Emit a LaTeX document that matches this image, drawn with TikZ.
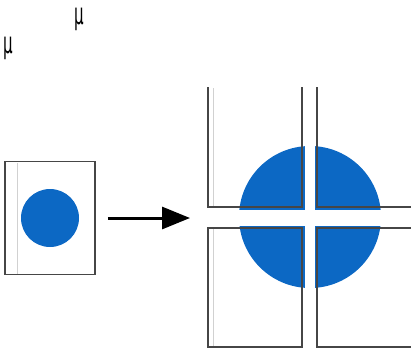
\documentclass[tikz,border=0pt]{standalone}
\usepackage{fontspec}
\newfontfamily\symfont{DejaVu Sans}
\usetikzlibrary{arrows.meta,positioning}
\definecolor{dotblue}{RGB}{12,104,196}
\definecolor{frame}{RGB}{70,70,70}

\begin{document}
\begin{tikzpicture}[
    x=1pt, y=-1pt, line width=1.4pt,
    panel/.style={draw=frame,line width=1.5pt},
    ghost/.style={draw=black!18,line width=0.8pt},
    smallbox/.style={draw=frame,line width=1.5pt,minimum width=90pt,minimum height=113pt,inner sep=0pt},
    dot/.style={circle,fill=dotblue,inner sep=0pt},
    gap/.style={fill=white,draw=none},
    sym/.style={font=\symfont\fontsize{30}{30}\selectfont,xscale=0.5,inner sep=0pt},
    arrow/.style={-{Triangle[length=28pt,width=22pt]},line width=3pt}
]
\path[use as bounding box] (0,0) rectangle (411,353);

\node[sym] (mua) at (79,19) {μ};
\node[sym] (mub) at (8,48) {μ};

% small input picture
\node[smallbox] (small) at (50,218) {};
\draw[ghost] (17,163) -- (17,274);
\node[dot,minimum size=58pt] (smalldot) at (50,218) {};

% enlarged picture, split into four panels
\coordinate (gridwest) at (208,218);
\node[dot,minimum size=142pt] (bigdot) at (310,217) {};
\fill[gap] (304.5,140) rectangle (314.5,295);
\fill[gap] (232,209.5) rectangle (388,225.5);
\draw[panel] (208,87) -- (208,207) -- (302,207) -- (302,87);
\draw[panel] (317,87) -- (317,207) -- (411,207);
\draw[panel] (208,228) rectangle (302,347);
\draw[panel] (411,228) -- (317,228) -- (317,347) -- (411,347);
\draw[ghost] (213,88) -- (213,206);
\draw[ghost] (213,229) -- (213,346);

\draw[arrow,shorten <=12pt,shorten >=18pt] (small.east) -- (gridwest);
\end{tikzpicture}
\end{document}
